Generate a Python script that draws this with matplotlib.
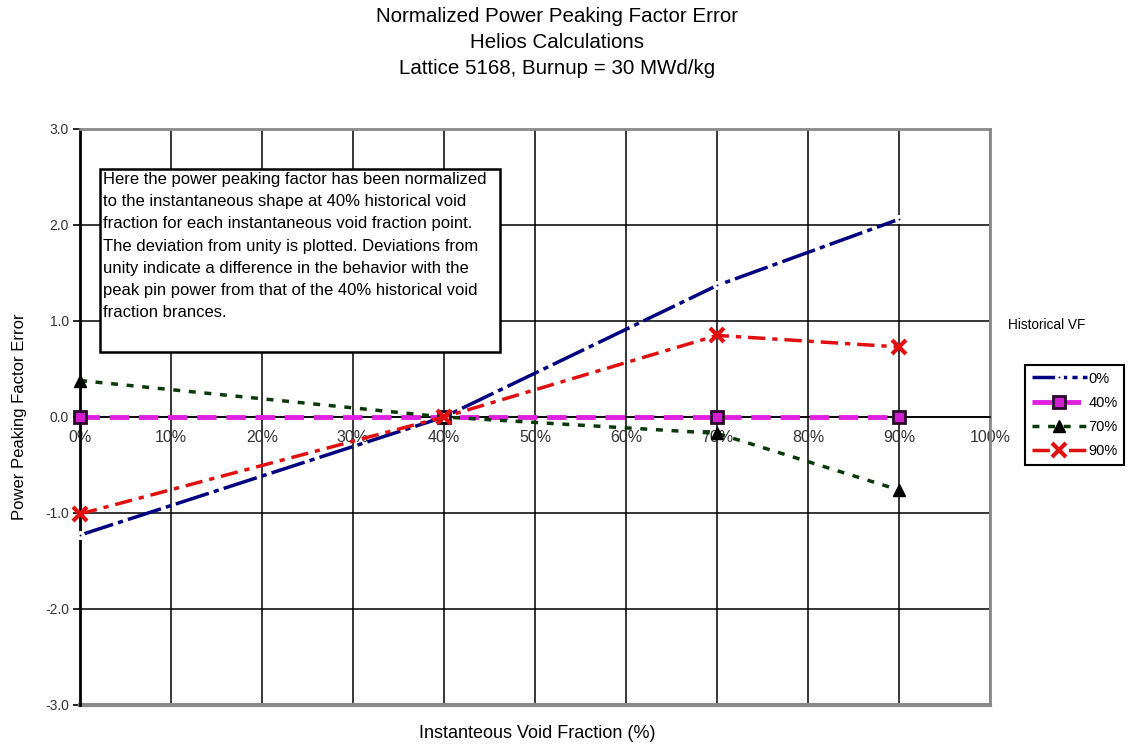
import matplotlib.pyplot as plt
from matplotlib.patches import Rectangle

plt.rcParams['font.family'] = ['Liberation Sans', 'DejaVu Sans']

# instantaneous void fraction (%) and error per historical void fraction
ivf = [0, 40, 70, 90]
err_0 = [-1.23, 0.0, 1.37, 2.06]
err_40 = [0.0, 0.0, 0.0, 0.0]
err_70 = [0.38, 0.0, -0.17, -0.76]
err_90 = [-1.01, 0.0, 0.85, 0.73]
labels = ["0%", "40%", "70%", "90%"]

xticks = list(range(0, 101, 10))
yticks = [-3.0, -2.0, -1.0, 0.0, 1.0, 2.0, 3.0]

note = ("Here the power peaking factor has been normalized\n"
        "to the instantaneous shape at 40% historical void\n"
        "fraction for each instantaneous void fraction point.\n"
        "The deviation from unity is plotted. Deviations from\n"
        "unity indicate a difference in the behavior with the\n"
        "peak pin power from that of the 40% historical void\n"
        "fraction brances.")

W, H = 1130, 749
fig = plt.figure(figsize=(W / 100, H / 100), dpi=100)
ax = fig.add_axes([80 / W, 1 - 705 / H, 910 / W, 576 / H])

ax.set_xlim(0, 100)
ax.set_ylim(-3, 3)
ax.set_xticks(xticks)
ax.set_xticklabels([f"{t}%" for t in xticks])
ax.set_yticks(yticks)
ax.set_yticklabels([f"{t:.1f}" for t in yticks])
ax.grid(True, color='black', linewidth=1.1)
ax.set_axisbelow(True)

for s in ['top', 'right']:
    ax.spines[s].set_color('#8a8a8a')
    ax.spines[s].set_linewidth(2)
ax.spines['bottom'].set_position(('data', 0))
ax.spines['bottom'].set_color('black')
ax.spines['bottom'].set_linewidth(1.2)
ax.axhline(-3, color='#8a8a8a', linewidth=3, clip_on=False, zorder=1)
ax.spines['left'].set_color('black')
ax.spines['left'].set_linewidth(2)
ax.tick_params(axis='x', length=0, pad=9, labelsize=11.5, labelcolor='#333333')
ax.tick_params(axis='y', length=5, width=1.2, direction='out', pad=3,
               labelsize=10, labelcolor='#333333')

ax.plot(ivf, err_40, color='#e020e0', linewidth=3.5, dashes=(4, 2),
        marker='s', markersize=8, markerfacecolor='#d020d0',
        markeredgecolor='#2a0a2a', markeredgewidth=2, label=labels[1], zorder=3,
        clip_on=False)
ax.plot(ivf, err_70, color='#0a3a0a', linewidth=2.5, dashes=(2, 2.5),
        marker='^', markersize=8, markerfacecolor='black',
        markeredgecolor='black', label=labels[2], zorder=4, clip_on=False)
ax.plot(ivf, err_0, color='#000080', linewidth=2.5, dashes=(10, 1.5, 1.5, 1.5),
        marker='o', markersize=4, markerfacecolor='#000080',
        markeredgecolor='white', markeredgewidth=2.5, label=labels[0], zorder=5,
        clip_on=False)
ax.plot(ivf, err_90, color='#e01010', linewidth=2.5, dashes=(5, 2, 1.5, 2),
        marker='x', markersize=10, markeredgewidth=3,
        label=labels[3], zorder=6, clip_on=False)

# note box
ax.add_patch(Rectangle((100 / W, 1 - 352 / H), 400 / W, 183 / H,
                       transform=fig.transFigure, facecolor='white',
                       edgecolor='black', linewidth=1.8, zorder=7,
                       clip_on=False))
fig.text(103 / W, 1 - 172 / H, note, ha='left', va='top', fontsize=12,
         linespacing=1.6, zorder=8)

fig.text(557 / W, 1 - 17 / H, "Normalized Power Peaking Factor Error",
         ha='center', va='center', fontsize=14.8)
fig.text(557 / W, 1 - 43 / H, "Helios Calculations",
         ha='center', va='center', fontsize=14.8)
fig.text(557 / W, 1 - 68 / H, "Lattice 5168, Burnup = 30 MWd/kg",
         ha='center', va='center', fontsize=14.8)
fig.text(537 / W, 1 - 733 / H, "Instanteous Void Fraction (%)",
         ha='center', va='center', fontsize=13)
fig.text(20 / W, 1 - 417 / H, "Power Peaking Factor Error", rotation=90,
         ha='center', va='center', fontsize=12)
fig.text(1008 / W, 1 - 325 / H, "Historical VF", ha='left', va='center',
         fontsize=9.8)

handles, lbls = ax.get_legend_handles_labels()
order = [lbls.index(l) for l in labels]
leg = fig.legend([handles[i] for i in order], [lbls[i] for i in order],
                 loc='upper left', bbox_to_anchor=(1025 / W, 1 - 365 / H),
                 fancybox=False, edgecolor='black', framealpha=1,
                 fontsize=10.5, handlelength=3.8, handletextpad=0.1,
                 borderpad=0.45, labelspacing=0.7, borderaxespad=0)
leg.get_frame().set_linewidth(1.5)

fig.savefig('out.png', dpi=100)
